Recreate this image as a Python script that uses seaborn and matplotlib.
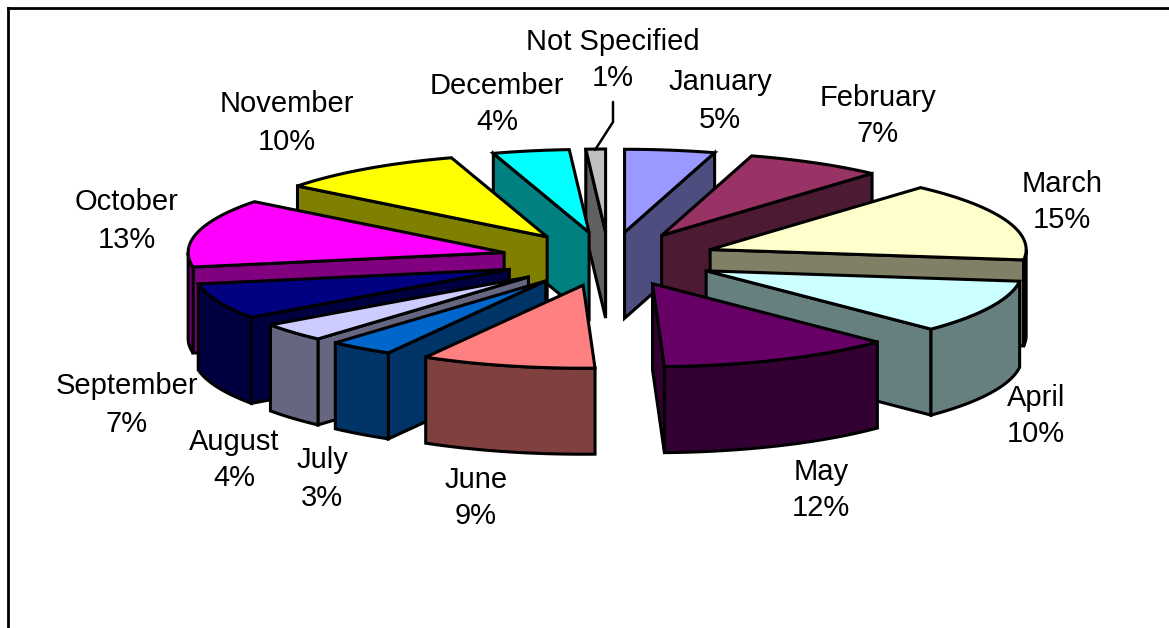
import numpy as np
import matplotlib
matplotlib.use('Agg')
import matplotlib.pyplot as plt
import seaborn as sns

months = ['January', 'February', 'March', 'April', 'May', 'June', 'July',
          'August', 'September', 'October', 'November', 'December', 'Not Specified']
# the labels show them rounded
shares = [4.6, 7.0, 15.4, 10.4, 12.0, 8.9, 3.3, 3.6, 7.0, 13.3, 9.6, 3.9, 1.0]
top_colors = ['#9999FF', '#993366', '#FFFFCC', '#CCFFFF', '#660066', '#FF8080', '#0066CC',
              '#CCCCFF', '#000080', '#FF00FF', '#FFFF00', '#00FFFF', '#C0C0C0']

# where the label blocks sit, in picture pixels
label_x = [720, 878, 1062, 1036, 821, 476, 322, 234, 127, 127, 287, 497, 613]
label_y = [101, 116, 202, 416, 490, 498, 479, 460, 405, 221, 123, 104, 60]
line_gap = 18.5

# pie projection
cx, cy = 609, 259
rx, ry = 316, 83
ex, ey = 108, 27
depth = 86

sns.set_theme(style='white')
plt.rcParams['font.family'] = ['Liberation Sans', 'DejaVu Sans']

palette = sns.color_palette(top_colors)
dark = [tuple(c * 0.5 for c in col) for col in palette]

W, H = 1169, 628
fig = plt.figure(figsize=(W / 100, H / 100), dpi=100)
ax = fig.add_axes([8 / W, 0, 1 - 8 / W, 1 - 8 / H])
ax.set_xlim(8, W)
ax.set_ylim(H, 8)
ax.set_xticks([])
ax.set_yticks([])
sns.despine(ax=ax, top=False, right=True, left=False, bottom=True)
for side in ['top', 'left']:
    ax.spines[side].set_color('black')
    ax.spines[side].set_linewidth(2.0)

edges = np.cumsum([0] + shares) / sum(shares) * 360


def rim(ax0, ay0, a, b):
    t = np.radians(np.linspace(a, b, max(int(abs(b - a)), 2) + 1))
    return ax0 + rx * np.sin(t), ay0 - ry * np.cos(t)


def face(xs, ys, color):
    ax.fill(xs, ys, facecolor=color, edgecolor='black', linewidth=2.2,
            joinstyle='miter', zorder=order)


mids = (edges[:-1] + edges[1:]) / 2
for order, i in enumerate(np.argsort(-np.cos(np.radians(mids)))):
    a, b, mid = edges[i], edges[i + 1], np.radians(mids[i])
    ax0 = cx + ex * np.sin(mid)
    ay0 = cy - ey * np.cos(mid)

    # radial walls that face the viewer
    for ang, show in [(a, a >= 180), (b, b <= 180)]:
        if show:
            x1, y1 = rim(ax0, ay0, ang, ang)
            face([ax0, x1[0], x1[0], ax0], [ay0, y1[0], y1[0] + depth, ay0 + depth], dark[i])

    # curved outer wall, only on the near half
    lo, hi = max(a, 90), min(b, 270)
    if hi > lo:
        xa, ya = rim(ax0, ay0, lo, hi)
        face(np.r_[xa, xa[::-1]], np.r_[ya, ya[::-1] + depth], dark[i])

    xa, ya = rim(ax0, ay0, a, b)
    face(np.r_[ax0, xa], np.r_[ay0, ya], palette[i])

# leader for the smallest slice
ax.plot([613, 613, 595], [102, 122, 150], color='black', lw=1.8, zorder=50)

for name, val, x, y in zip(months, shares, label_x, label_y):
    ax.text(x, y - line_gap, name, ha='center', va='center', fontsize=21,
            color='black', zorder=60)
    ax.text(x, y + line_gap, f'{val:.0f}%', ha='center', va='center', fontsize=21,
            color='black', zorder=60)

fig.savefig('out.png', dpi=100)
